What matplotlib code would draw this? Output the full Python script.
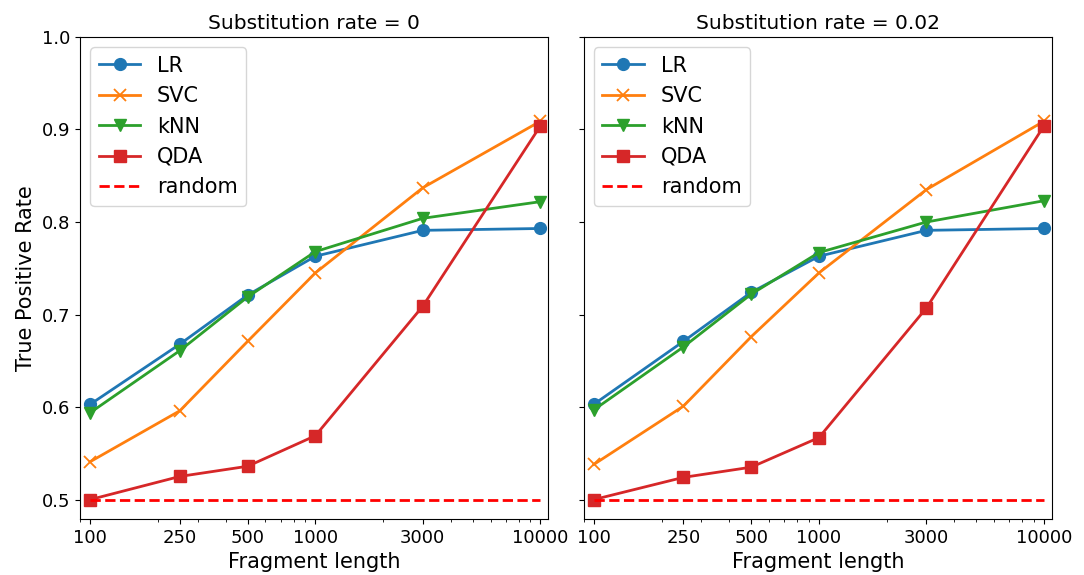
import numpy as np
import matplotlib
matplotlib.use("Agg")
import matplotlib.pyplot as plt
from matplotlib.ticker import FixedLocator, FixedFormatter, LogLocator, NullFormatter

# fragment lengths (x axis)
lengths = [100, 250, 500, 1000, 3000, 10000]
tick_labels = ["100", "250", "500", "1000", "3000", "10000"]

titles = ["Substitution rate = 0", "Substitution rate = 0.02"]

# true positive rate, substitution rate = 0
lr_0 = [0.603, 0.668, 0.721, 0.763, 0.791, 0.793]
svc_0 = [0.541, 0.596, 0.671, 0.745, 0.837, 0.909]
knn_0 = [0.594, 0.661, 0.719, 0.768, 0.804, 0.822]
qda_0 = [0.500, 0.525, 0.536, 0.569, 0.709, 0.904]

# true positive rate, substitution rate = 0.02
lr_2 = [0.603, 0.671, 0.724, 0.763, 0.791, 0.793]
svc_2 = [0.538, 0.601, 0.676, 0.745, 0.835, 0.909]
knn_2 = [0.597, 0.665, 0.722, 0.767, 0.800, 0.823]
qda_2 = [0.500, 0.524, 0.535, 0.567, 0.707, 0.904]

random_rate = 0.5

panels = [(lr_0, svc_0, knn_0, qda_0), (lr_2, svc_2, knn_2, qda_2)]

fig, axes = plt.subplots(1, 2, figsize=(10.84, 5.75), dpi=100, sharey=True)
fig.subplots_adjust(left=0.0738, right=0.9705, bottom=0.0974, top=0.9357, wspace=0.075)

lw = 2.0
for ax, title, (lr, svc, knn, qda) in zip(axes, titles, panels):
    ax.plot(lengths, lr, color="#1f77b4", marker="o", ms=8.5, lw=lw, label="LR")
    ax.plot(lengths, svc, color="#ff7f0e", marker="x", ms=8.5, mew=1.3, lw=lw, label="SVC")
    ax.plot(lengths, knn, color="#2ca02c", marker="v", ms=8.5, lw=lw, label="kNN")
    ax.plot(lengths, qda, color="#d62728", marker="s", ms=8, lw=lw, label="QDA")
    ax.plot([lengths[0], lengths[-1]], [random_rate, random_rate], color="red",
            ls="--", lw=lw, label="random")

    ax.set_xscale("log")
    ax.set_xlim(90, 10850)
    ax.set_ylim(0.479, 1.0)
    ax.xaxis.set_major_locator(FixedLocator(lengths))
    ax.xaxis.set_major_formatter(FixedFormatter(tick_labels))
    ax.xaxis.set_minor_locator(LogLocator(base=10, subs=np.arange(2, 10)))
    ax.xaxis.set_minor_formatter(NullFormatter())
    ax.set_yticks([0.5, 0.6, 0.7, 0.8, 0.9, 1.0])
    ax.tick_params(labelsize=13)
    ax.set_title(title, fontsize=14.5)
    ax.set_xlabel("Fragment length", fontsize=15)
    ax.legend(loc="upper left", fontsize=15)

axes[0].set_ylabel("True Positive Rate", fontsize=15)

fig.savefig("out.png", dpi=100)
